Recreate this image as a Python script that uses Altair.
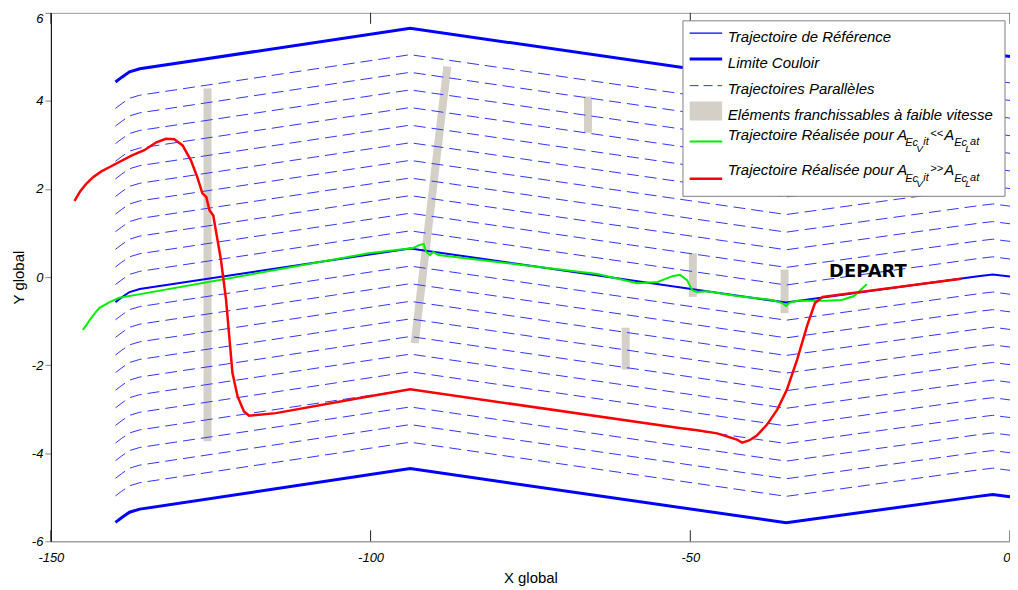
import altair as alt
import pandas as pd

# ---------------- data ----------------
ref_x = [-139.9, -138.9, -137.7, -136.1, -93.8, -35.0, -5.0, -2.7, 0.0]
ref_y = [-0.57, -0.46, -0.34, -0.27, 0.65, -0.58, 0.02, 0.06, 0.01]

limit_offsets = [5.0, -5.0]
parallel_offsets = [4.4, 4.0, 3.6, 3.2, 2.8, 2.4, 2.0, 1.6, 1.2, 0.8, 0.4,
                    -0.4, -0.8, -1.2, -1.6, -2.0, -2.4, -2.8, -3.2, -3.6, -4.0, -4.4]

green_x = [-145.0, -144.4, -143.9, -143.1, -142.4, -140.8, -139.3, -136.9, -100.3, -93.3, -92.5, -91.7,
           -91.3, -90.7, -90.2, -89.4, -64.5, -58.3, -55.1, -52.8, -51.6, -50.5,
           -49.7, -48.9, -47.4, -42.7, -37.2, -35.6, -35.0, -34.6, -33.3, -28.7,
           -26.3, -24.4, -23.2, -22.4]
green_y = [-1.20, -1.08, -0.97, -0.82, -0.70, -0.57, -0.47, -0.41, 0.54, 0.66, 0.72, 0.75,
           0.57, 0.50, 0.57, 0.50, 0.07, -0.14, -0.11, 0.02, 0.05, -0.07,
           -0.30, -0.34, -0.32, -0.43, -0.52, -0.59, -0.66, -0.59, -0.54, -0.54,
           -0.52, -0.43, -0.27, -0.16]

red_x = [-146.3, -145.4, -144.4, -143.4, -142.1, -140.8, -137.4, -135.4, -133.5, -132.0, -130.7, -129.4, -128.1,
         -127.1, -126.3, -125.7, -125.2, -124.6, -124.2, -123.4, -122.6, -122.1, -121.6,
         -120.8, -119.8, -119.0, -114.8, -101.9, -93.8, -52.0, -48.9, -45.8, -42.7, -41.9,
         -40.8, -39.6, -38.0, -36.4, -34.9, -33.3, -31.7, -30.5, -29.3, -7.6]
red_y = [1.73, 1.95, 2.13, 2.27, 2.40, 2.50, 2.76, 2.88, 3.06, 3.14, 3.13, 2.99, 2.65,
         2.27, 1.90, 1.82, 1.52, 1.40, 1.06, 0.39, -0.52, -1.35, -2.18,
         -2.71, -3.05, -3.15, -3.09, -2.75, -2.55, -3.42, -3.48, -3.55, -3.69, -3.76,
         -3.71, -3.60, -3.35, -3.01, -2.56, -1.88, -1.09, -0.59, -0.45, -0.04]

obs_id = [1, 1, 2, 2, 3, 3, 4, 4, 5, 5, 6, 6]
obs_x = [-125.5, -125.5, -93.1, -88.0, -66.0, -66.0, -60.1, -60.1, -49.6, -49.6, -35.25, -35.25]
obs_y = [4.28, -3.73, -1.50, 4.78, 4.10, 3.28, -1.15, -2.10, 0.54, -0.45, 0.17, -0.82]

x_ticks = [-150, -100, -50, 0]
y_ticks = [-6, -4, -2, 0, 2, 4, 6]

depart_label = "DEPART"
depart_x = [-28.3]
depart_y = [0.11]

# ---------------- tables ----------------
def offset_table(offsets):
    rows = []
    for o in offsets:
        for i, (xv, yv) in enumerate(zip(ref_x, ref_y)):
            rows.append({"x": xv, "y": yv + o, "off": o, "i": i})
    return pd.DataFrame(rows)

ref_df = pd.DataFrame({"x": ref_x, "y": ref_y, "i": range(len(ref_x))})
lim_df = offset_table(limit_offsets)
par_df = offset_table(parallel_offsets)
green_df = pd.DataFrame({"x": green_x, "y": green_y, "i": range(len(green_x))})
red_df = pd.DataFrame({"x": red_x, "y": red_y, "i": range(len(red_x))})
obs_df = pd.DataFrame({"x": obs_x, "y": obs_y, "id": obs_id, "i": range(len(obs_x))})
tick_df = pd.DataFrame({"x": x_ticks})
dep_df = pd.DataFrame({"x": depart_x, "y": depart_y, "t": [depart_label]})

FONT = "Liberation Sans"
W, H = 962, 530
MINUS_FIX = "replace(datum.label, '\u2212', '-')"

xs = alt.Scale(domain=[-150, 0], nice=False, zero=False)
ys = alt.Scale(domain=[-6, 6], nice=False, zero=False)

x_axis = alt.Axis(
    values=x_ticks, title="X global", ticks=False, grid=False, labelExpr=MINUS_FIX,
    labelFontStyle="italic", labelFontSize=13, labelFont=FONT, labelColor="#000",
    labelPadding=10, domainColor="#999999", titleFont=FONT, titleFontSize=15,
    titleFontWeight="normal", titlePadding=6, titleColor="#000", labelFlush=False,
    labelAlign={"condition": {"test": "datum.value == 0", "value": "right"}, "value": "center"})
y_axis = alt.Axis(
    values=y_ticks, title="Y global", grid=False, tickSize=6, tickColor="#888888",
    labelExpr=MINUS_FIX,
    labelFontStyle="italic", labelFontSize=13, labelFont=FONT, labelColor="#000",
    labelPadding=2, domainColor="#000000", titleFont=FONT, titleFontSize=15,
    titleFontWeight="normal", titlePadding=5, titleColor="#000", labelFlush=False,
    labelBaseline={"condition": {"test": "datum.value == 6", "value": "top"}, "value": "middle"})
X = alt.X("x:Q", scale=xs, axis=x_axis, title="X global")
Y = alt.Y("y:Q", scale=ys, axis=y_axis, title="Y global")

obs = alt.Chart(obs_df).mark_line(color="#d4d0c8", strokeWidth=8, strokeCap="butt").encode(
    x=X, y=Y, detail="id:N", order="i:Q")
par = alt.Chart(par_df).mark_line(color="#3333ff", strokeWidth=1, strokeDash=[12, 6]).encode(
    x=X, y=Y, detail="off:N", order="i:Q")
lim = alt.Chart(lim_df).mark_line(color="#0000ff", strokeWidth=3).encode(
    x=X, y=Y, detail="off:N", order="i:Q")
ref = alt.Chart(ref_df).mark_line(color="#0000ff", strokeWidth=2).encode(x=X, y=Y, order="i:Q")
grn = alt.Chart(green_df).mark_line(color="#00ee00", strokeWidth=2).encode(x=X, y=Y, order="i:Q")
red = alt.Chart(red_df).mark_line(color="#ff0000", strokeWidth=2.5).encode(x=X, y=Y, order="i:Q")
dep = alt.Chart(dep_df).mark_text(align="left", baseline="middle", font="DejaVu Sans",
                                  fontWeight="bold", fontSize=18, color="#000").encode(
    x=X, y=Y, text="t:N")
tick_bot = alt.Chart(tick_df).mark_rule(color="#222", strokeWidth=1).encode(
    x=X, y=alt.value(H), y2=alt.value(H - 11))
tick_top = alt.Chart(tick_df).mark_rule(color="#222", strokeWidth=1).encode(
    x=X, y=alt.value(0), y2=alt.value(11))

# ---------------- legend ----------------
one = pd.DataFrame({"a": [0]})
L0, L1 = 640.7, 673.3
TX = 679
LS = 15
leg = []
leg.append(alt.Chart(one).mark_rect(fill="white", stroke="#808080", strokeWidth=1).encode(
    x=alt.value(634), x2=alt.value(957), y=alt.value(8), y2=alt.value(184)))

def leg_line(y, color, width, dash=None):
    kw = dict(color=color, strokeWidth=width)
    if dash:
        kw["strokeDash"] = dash
    return alt.Chart(one).mark_rule(**kw).encode(x=alt.value(L0), x2=alt.value(L1), y=alt.value(y))

def leg_text(x, y, s, size=LS):
    return alt.Chart(one).mark_text(text=s, align="left", baseline="middle", font=FONT,
                                    fontStyle="italic", fontSize=size, color="#000").encode(
        x=alt.value(x), y=alt.value(y))

leg.append(leg_line(20.3, "#0000ff", 1.3))
leg.append(leg_text(TX, 24.7, "Trajectoire de Référence"))
leg.append(leg_line(46.3, "#0000ff", 3))
leg.append(leg_text(TX, 50.3, "Limite Couloir"))
leg.append(leg_line(73, "#3333ff", 1, [9, 5]))
leg.append(leg_text(TX, 76.3, "Trajectoires Parallèles"))
leg.append(alt.Chart(one).mark_rect(fill="#d4d0c8").encode(
    x=alt.value(L0), x2=alt.value(L1), y=alt.value(89), y2=alt.value(108)))
leg.append(leg_text(TX, 102, "Eléments franchissables à faible vitesse"))

def leg_formula(yc, op):
    return [
        leg_text(TX, yc, "Trajectoire Réalisée pour A"),
        leg_text(857, yc + 8.7, "Ec", 11),
        leg_text(868, yc + 14, "V", 10),
        leg_text(875, yc + 7.4, "it", 11),
        leg_text(882, yc - 1, op, 11),
        leg_text(896, yc, "A"),
        leg_text(906, yc + 8.7, "Ec", 11),
        leg_text(917, yc + 14, "L", 10),
        leg_text(922, yc + 7.4, "at", 11),
    ]

leg.append(leg_line(129, "#00ee00", 2))
leg += leg_formula(122.3, "<<")
leg.append(leg_line(166.3, "#ff0000", 2.5))
leg += leg_formula(158, ">>")

chart = alt.layer(obs, par, lim, ref, grn, red, dep, tick_bot, tick_top, *leg).properties(
    width=W, height=H,
    padding={"left": 43, "top": 4, "right": 0, "bottom": 48},
    autosize=alt.AutoSizeParams(type="none"),
    background="white",
).configure_view(stroke="#999999", strokeWidth=1)

chart.save("out.html", embed_options={"renderer": "svg", "actions": False})
